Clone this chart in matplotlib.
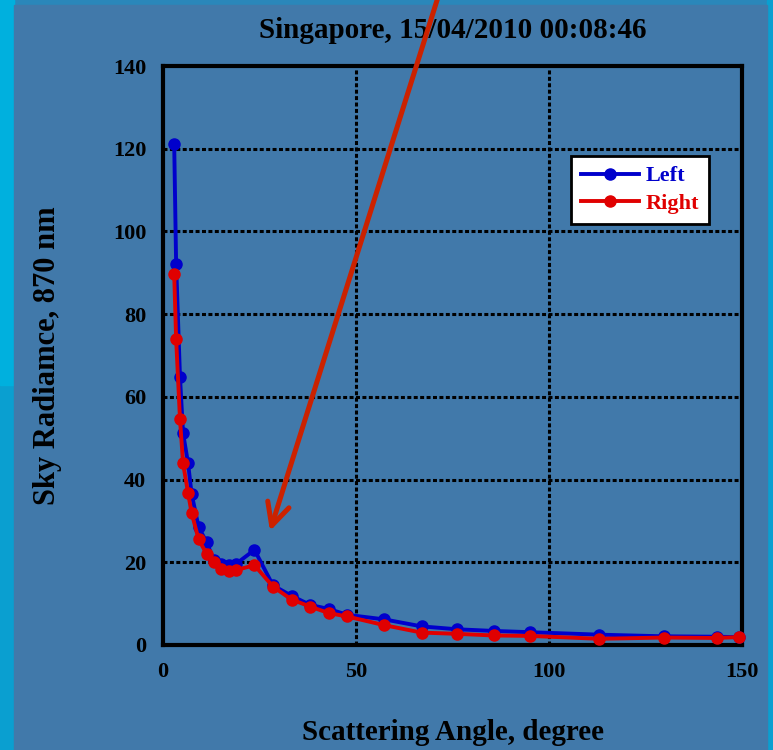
import matplotlib.pyplot as plt
from matplotlib.patches import Rectangle

# almucantar scan, scattering angle (deg) and radiance at 870 nm
angulo = [2.9, 3.4, 4.4, 5.2, 6.5, 7.4, 9.2, 11.3, 13.2, 15.0, 17.0, 18.9, 23.7, 28.5,
          33.3, 38.1, 43.0, 47.7, 57.3, 67.0, 76.2, 85.7, 95.0, 113.0, 129.7, 143.4, 149.1]
rad_left = [121.1, 92.2, 64.8, 51.2, 43.9, 36.6, 28.6, 24.8, 20.5, 19.6, 19.3, 19.6, 23.0, 14.4,
            11.9, 9.7, 8.7, 7.3, 6.2, 4.5, 3.8, 3.4, 3.1, 2.5, 2.1, 2.0, 1.9]
rad_right = [89.6, 74.0, 54.6, 43.9, 36.7, 32.0, 25.6, 22.0, 20.1, 18.4, 18.0, 18.1, 19.3, 14.1,
             11.0, 9.3, 7.7, 6.9, 4.8, 3.0, 2.7, 2.3, 2.2, 1.5, 1.8, 1.7, 1.9]

titulo = 'Singapore, 15/04/2010 00:08:46'
fundo = '#4179AA'

plt.rcParams['font.family'] = ['Liberation Serif', 'DejaVu Serif']
plt.rcParams['font.weight'] = 'bold'

fig = plt.figure(figsize=(7.73, 7.5), dpi=100)
fig.patch.set_facecolor('#2A87BA')

# moldura do slide
fig.add_artist(Rectangle((0, 0), 14 / 773, 1, transform=fig.transFigure, color='#0A9FD0', zorder=0))
fig.add_artist(Rectangle((0, 365 / 750), 14 / 773, 1, transform=fig.transFigure, color='#00B0DE', zorder=0))
fig.add_artist(Rectangle((767 / 773, 0), 6 / 773, 1, transform=fig.transFigure, color='#0A9FD0', zorder=0))
fig.add_artist(Rectangle((14 / 773, 0), 753 / 773, 745 / 750, transform=fig.transFigure,
                         color=fundo, zorder=0))

ax = fig.add_axes([163 / 773, 105 / 750, 579 / 773, 579 / 750])
ax.set_facecolor(fundo)

ax.plot(angulo, rad_left, color='#0000CC', lw=2.8, marker='o', ms=8, label='Left', clip_on=False, zorder=3)
ax.plot(angulo, rad_right, color='#E00000', lw=2.8, marker='o', ms=8, label='Right', clip_on=False, zorder=4)

ax.set_xlim(0, 150)
ax.set_ylim(0, 140)
ax.set_xticks([0, 50, 100, 150])
ax.set_yticks(range(0, 141, 20))
ax.tick_params(length=0, labelsize=16, pad=12)
for lado in ax.spines.values():
    lado.set_linewidth(3)
    lado.set_color('black')

# grade pontilhada so nas linhas internas
for gx in [50, 100]:
    ax.axvline(gx, color='black', lw=2.2, linestyle=(0, (1.3, 0.8)), zorder=1)
for gy in range(20, 140, 20):
    ax.axhline(gy, color='black', lw=2.2, linestyle=(0, (1.3, 0.8)), zorder=1)

ax.set_xlabel('Scattering Angle, degree', fontsize=21, fontweight='bold', labelpad=27)
ax.set_ylabel('Sky Radiamce, 870 nm', fontsize=22, fontweight='bold', labelpad=37)
ax.set_title(titulo, fontsize=21, fontweight='bold', pad=20)

leg = ax.legend(loc='upper right', bbox_to_anchor=(0.943, 0.845), borderaxespad=0,
                fontsize=16, handlelength=2.6, labelcolor='linecolor', fancybox=False,
                framealpha=1, edgecolor='black', borderpad=0.45, labelspacing=0.32,
                handletextpad=0.3)
leg.get_frame().set_linewidth(2)
for t in leg.get_texts():
    t.set_fontweight('bold')

# seta vermelha apontando o pico
ax.annotate('', xy=(270, 219), xycoords='figure pixels', xytext=(439, 756), textcoords='figure pixels',
            arrowprops=dict(arrowstyle='->,head_length=1.6,head_width=0.8', mutation_scale=10,
                            color='#CC2200', lw=3.6, shrinkA=0, shrinkB=0),
            annotation_clip=False, zorder=10)

fig.savefig('out.png', dpi=100, facecolor=fig.get_facecolor())
